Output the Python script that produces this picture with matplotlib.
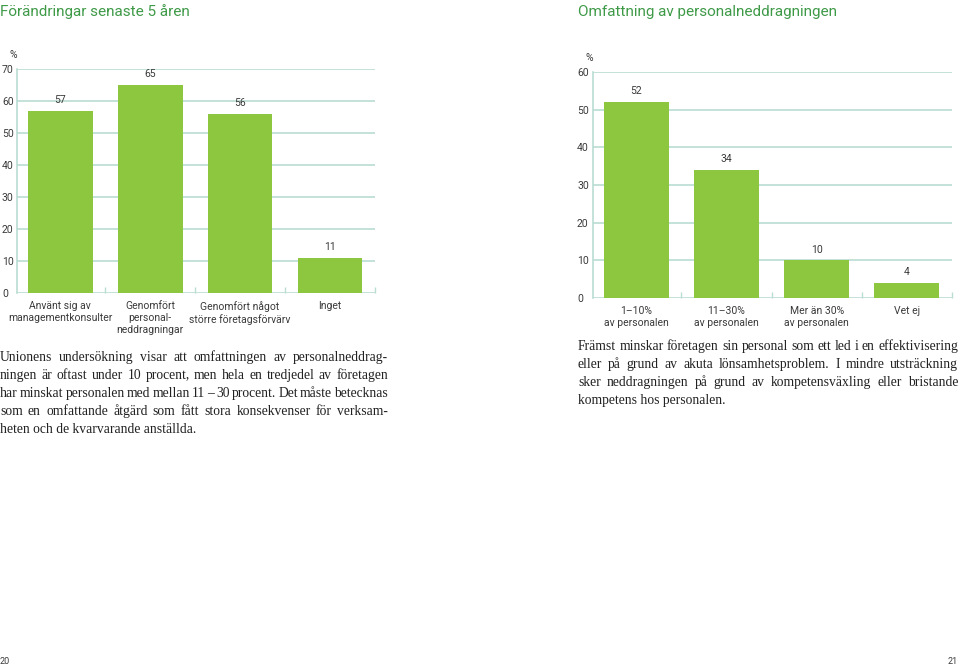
import matplotlib
matplotlib.use("Agg")
import matplotlib.pyplot as plt

# data
left_cats = ["Använt sig av\nmanagementkonsulter", "Genomfört\npersonal-\nneddragningar",
             "Genomfört något\nstörre företagsförvärv", "Inget"]
left_vals = [57, 65, 56, 11]
left_yticks = [0, 10, 20, 30, 40, 50, 60, 70]

right_cats = ["1–10%\nav personalen", "11–30%\nav personalen",
              "Mer än 30%\nav personalen", "Vet ej"]
right_vals = [52, 34, 10, 4]
right_yticks = [0, 10, 20, 30, 40, 50, 60]

left_text = [
    "Unionens undersökning visar att omfattningen av personalneddrag-",
    "ningen är oftast under 10 procent, men hela en tredjedel av företagen",
    "har minskat personalen med mellan 11 – 30 procent. Det måste betecknas",
    "som en omfattande åtgärd som fått stora konsekvenser för verksam-",
    "heten och de kvarvarande anställda.",
]
right_text = [
    "Främst minskar företagen sin personal som ett led i en effektivisering",
    "eller på grund av akuta lönsamhetsproblem. I mindre utsträckning",
    "sker neddragningen på grund av kompetensväxling eller bristande",
    "kompetens hos personalen.",
]

GREEN = "#8dc63f"
GRID = "#b9ddd2"
TITLE = "#3f9a48"
DARK = "#3a3a3a"
SANS = ["Roboto", "DejaVu Sans"]
SERIF = ["Liberation Serif", "DejaVu Serif"]

plt.rcParams["font.family"] = SANS

W, H = 960, 667
fig = plt.figure(figsize=(W / 100, H / 100), dpi=100)


def px(x, y):
    return x / W, 1 - y / H


def bar_chart(rect, cats, vals, yticks, ymax, pad):
    ax = fig.add_axes(rect)
    xs = range(len(cats))
    ax.bar(xs, vals, width=0.72, color=GREEN, zorder=3)
    ax.set_xlim(-0.48, len(cats) - 0.5)
    ax.set_ylim(0, ymax)
    ax.set_yticks(yticks)
    ax.yaxis.grid(True, color=GRID, linewidth=1.2, zorder=0)
    for s in ["top", "right", "bottom"]:
        ax.spines[s].set_visible(False)
    ax.spines["left"].set_color(GRID)
    ax.spines["left"].set_linewidth(1.2)
    ax.tick_params(axis="y", length=0, labelsize=7.5, labelcolor=DARK, pad=pad)
    for lab in ax.get_yticklabels():
        lab.set_horizontalalignment("left")
    # small ticks between categories on the baseline
    ax.set_xticks([i + 0.5 for i in xs])
    ax.tick_params(axis="x", direction="in", length=4, color=GRID, width=1, labelbottom=False)
    for i, (c, v) in enumerate(zip(cats, vals)):
        ax.text(i, v + ymax * 0.025, str(v), ha="center", va="bottom", fontsize=7.5, color=DARK)
        ax.text(i, -ymax * 0.035, c, ha="center", va="top", fontsize=7.5, color=DARK,
                linespacing=1.25)
    ax.text(-0.01, 1.05, "%", transform=ax.transAxes, fontsize=7.5, color=DARK, ha="center")
    return ax


bar_chart([17 / W, 1 - 293 / H, 358 / W, 224 / H], left_cats, left_vals, left_yticks, 70, 10.8)
bar_chart([593 / W, 1 - 298 / H, 359 / W, 226 / H], right_cats, right_vals, right_yticks, 60, 11.5)

# titles
fig.text(*px(0, 12), "Förändringar senaste 5 åren", fontsize=11, color=TITLE, va="center")
fig.text(*px(578, 12), "Omfattning av personalneddragningen", fontsize=11, color=TITLE, va="center")

# body text, justified by hand
fig.canvas.draw()
renderer = fig.canvas.get_renderer()
BODY = dict(fontsize=9.8, family=SERIF, color="#222222", va="baseline")


def paragraph(lines, x0, x1, y0, step):
    for k, line in enumerate(lines):
        y = y0 + k * step + 4
        words = line.split(" ")
        if k == len(lines) - 1 or len(words) == 1:
            fig.text(*px(x0, y), line, **BODY)
            continue
        arts = [fig.text(0, 0, w, **BODY) for w in words]
        widths = [a.get_window_extent(renderer).width for a in arts]
        gap = (x1 - x0 - sum(widths)) / (len(words) - 1)
        x = x0
        for a, w in zip(arts, widths):
            a.set_position(px(x, y))
            x += w + gap


paragraph(left_text, 0, 388, 357, 18)
paragraph(right_text, 578, 958, 346, 18)

# page numbers
fig.text(*px(0, 661), "20", fontsize=6.5, color=DARK, va="center")
fig.text(*px(958, 661), "21", fontsize=6.5, color=DARK, va="center", ha="right")

fig.savefig("out.png", dpi=100)
